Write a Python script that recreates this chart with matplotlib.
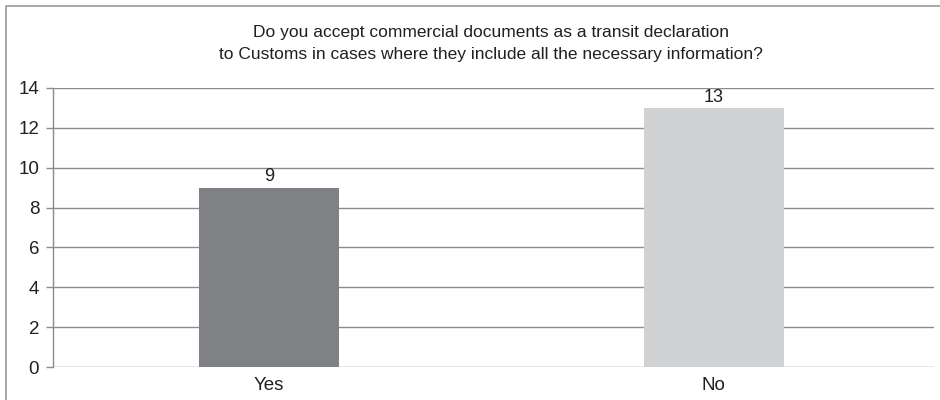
import matplotlib.pyplot as plt
from matplotlib.patches import Rectangle

categories = ["Yes", "No"]
counts = [9, 13]
bar_colors = ["#808184", "#d1d2d4"]
y_ticks = [0, 2, 4, 6, 8, 10, 12, 14]

title = ("Do you accept commercial documents as a transit declaration\n"
         "to Customs in cases where they include all the necessary information?")

plt.rcParams['font.family'] = ['Liberation Sans', 'DejaVu Sans']
text_color = "#231f20"
line_color = "#8c8c8c"

fig = plt.figure(figsize=(9.4, 4), dpi=100)
ax = fig.add_axes([0.0564, 0.0825, 0.9372, 0.6975])

x = list(range(len(categories)))
bars = ax.bar(x, counts, width=0.315, color=bar_colors, zorder=3)

for bar, val in zip(bars, counts):
    ax.text(bar.get_x() + bar.get_width() / 2, val + 0.12, str(val),
            ha='center', va='bottom', fontsize=13, color=text_color)

ax.set_xlim(-0.485, 1.495)
ax.set_ylim(0, 14)
ax.set_yticks(y_ticks)
ax.set_xticks(x)
ax.set_xticklabels(categories)
ax.tick_params(axis='y', length=5, width=1, color=line_color, pad=5)
ax.tick_params(axis='x', length=0, pad=7)
for lbl in ax.get_yticklabels() + ax.get_xticklabels():
    lbl.set_fontsize(13.5)
    lbl.set_color(text_color)

ax.grid(axis='y', color=line_color, linewidth=1, zorder=0)
for side in ['top', 'right', 'bottom']:
    ax.spines[side].set_visible(False)
ax.spines['left'].set_color(line_color)
ax.spines['left'].set_linewidth(1)

fig.text(0.522, 0.892, title, ha='center', va='center', fontsize=12.5,
         color=text_color, linespacing=1.55)

# frame around the whole chart area
fig.patches.append(Rectangle((6 / 940, -0.1), 1.1, 1.1 - 6 / 400,
                             transform=fig.transFigure, fill=False,
                             edgecolor="#9a9a9a", linewidth=1.2))

fig.savefig("out.png", dpi=100)
